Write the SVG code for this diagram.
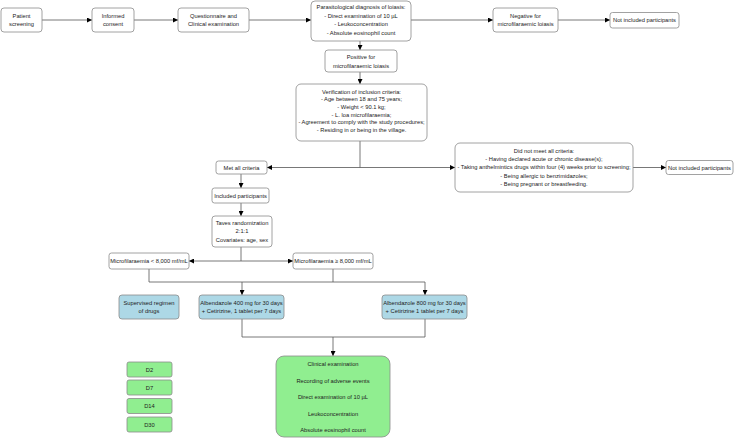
<svg xmlns="http://www.w3.org/2000/svg" width="735" height="438" viewBox="0 0 735 438">
<style>
.b{fill:#fff;stroke:#8a8a8a;stroke-width:0.8}
.bl{fill:#add8e6;stroke:#8a8a8a;stroke-width:0.8}
.g{fill:#90ee90;stroke:#8a8a8a;stroke-width:0.8}
text{font-family:"Liberation Sans",Arial,sans-serif;font-size:5.75px;fill:#222;text-anchor:middle;dominant-baseline:central}
.c path{fill:none;stroke:#555;stroke-width:0.8}
</style>
<defs>
<marker id="a" viewBox="0 0 10 10" refX="10" refY="5" markerWidth="5" markerHeight="5" orient="auto" markerUnits="userSpaceOnUse">
<path d="M0,0L10,5L0,10z" fill="#000"/>
</marker>
</defs>
<rect width="735" height="438" fill="#fff"/>
<g class="c">
<path d="M42,20H92" marker-end="url(#a)"/>
<path d="M134,20H178" marker-end="url(#a)"/>
<path d="M249,20H311" marker-end="url(#a)"/>
<path d="M411,20H493" marker-end="url(#a)"/>
<path d="M558,20H610" marker-end="url(#a)"/>
<path d="M360,41V50" marker-end="url(#a)"/>
<path d="M360,72V84" marker-end="url(#a)"/>
<path d="M360,141V167.5"/>
<path d="M360,167.5H267" marker-end="url(#a)"/>
<path d="M360,167.5H455" marker-end="url(#a)"/>
<path d="M633,167.5H666" marker-end="url(#a)"/>
<path d="M241,174V188" marker-end="url(#a)"/>
<path d="M241,203V216" marker-end="url(#a)"/>
<path d="M241,247V261"/>
<path d="M241,261H189" marker-end="url(#a)"/>
<path d="M241,261H293" marker-end="url(#a)"/>
<path d="M149,269V282H425"/>
<path d="M333,269V282"/>
<path d="M242,282V295" marker-end="url(#a)"/>
<path d="M425,282V295" marker-end="url(#a)"/>
<path d="M242,319V337H425V319"/>
<path d="M333,337V356" marker-end="url(#a)"/>
</g>
<g id="patient"><rect class="b" x="1" y="8" width="41" height="24" rx="3"/><text x="21.5" y="16">Patient</text><text x="21.5" y="24.3">screening</text></g>
<g id="consent"><rect class="b" x="92" y="8" width="42" height="24" rx="3"/><text x="113" y="16">Informed</text><text x="113" y="24.3">consent</text></g>
<g id="questionnaire"><rect class="b" x="178" y="8" width="71" height="24" rx="3"/><text x="213.5" y="16">Questionnaire and</text><text x="213.5" y="24.3">Clinical examination</text></g>
<g id="parasito"><rect class="b" x="311" y="1" width="100" height="40" rx="4"/>
<text x="361" y="7.3">Parasitological diagnosis of loiasis:</text>
<text x="361" y="15.7">- Direct examination of 10 µL</text>
<text x="361" y="24.2">- Leukoconcentration</text>
<text x="361" y="32.6">- Absolute eosinophil count</text></g>
<g id="negative"><rect class="b" x="493" y="8" width="65" height="24" rx="3"/><text x="525.5" y="16">Negative for</text><text x="525.5" y="24.3">microfilaraemic loiasis</text></g>
<g id="notincl1"><rect class="b" x="610" y="12.5" width="69" height="15.5" rx="2.5"/><text x="644.5" y="20.3">Not included participants</text></g>
<g id="positive"><rect class="b" x="325" y="50" width="72" height="22" rx="3"/><text x="361" y="57.3">Positive for</text><text x="361" y="66">microfilaraemic loiasis</text></g>
<g id="verification"><rect class="b" x="296" y="84" width="131" height="57" rx="5"/>
<text x="361.5" y="91.5">Verification of inclusion criteria:</text>
<text x="361.5" y="99.2">- Age between 18 and 75 years;</text>
<text x="361.5" y="106.9">- Weight &lt; 90.1 kg;</text>
<text x="361.5" y="114.6">- L. loa microfilaraemia;</text>
<text x="361.5" y="122.3">- Agreement to comply with the study procedures;</text>
<text x="361.5" y="130">- Residing in or being in the village.</text></g>
<g id="met"><rect class="b" x="216" y="161" width="51" height="13" rx="2.5"/><text x="241.5" y="167.5">Met all criteria</text></g>
<g id="notmet"><rect class="b" x="455" y="143" width="178" height="49" rx="5"/>
<text x="544" y="151.3">Did not meet all criteria:</text>
<text x="544" y="159.3">- Having declared acute or chronic disease(s);</text>
<text x="544" y="167.4">- Taking anthelmintics drugs within four (4) weeks prior to screening;</text>
<text x="544" y="175.5">- Being allergic to benzimidazoles;</text>
<text x="544" y="183.6">- Being pregnant or breastfeeding.</text></g>
<g id="notincl2"><rect class="b" x="666" y="160.5" width="67" height="14" rx="2.5"/><text x="699.5" y="167.5">Not included participants</text></g>
<g id="included"><rect class="b" x="212" y="188" width="57" height="15" rx="2.5"/><text x="240.5" y="195.5">Included participants</text></g>
<g id="taves"><rect class="b" x="212" y="216" width="60" height="31" rx="3"/>
<text x="242" y="222.7">Taves randomization</text><text x="242" y="231.2">2:1:1</text><text x="242" y="239.7">Covariates: age, sex</text></g>
<g id="mflow"><rect class="b" x="109" y="253" width="80" height="16" rx="2.5"/><text x="149" y="261">Microfilaraemia &lt; 8,000 mf/mL</text></g>
<g id="mfhigh"><rect class="b" x="293" y="253" width="80" height="16" rx="2.5"/><text x="333" y="261">Microfilaraemia ≥ 8,000 mf/mL</text></g>
<g id="supervised"><rect class="bl" x="119" y="295" width="60" height="24" rx="3"/><text x="149" y="303">Supervised regimen</text><text x="149" y="311.3">of drugs</text></g>
<g id="alb400"><rect class="bl" x="199" y="295" width="85" height="24" rx="3"/><text x="241.5" y="303">Albendazole 400 mg for 30 days</text><text x="241.5" y="311.3">+ Cetirizine, 1 tablet per 7 days</text></g>
<g id="alb800"><rect class="bl" x="382" y="295" width="85" height="24" rx="3"/><text x="424.5" y="303">Albendazole 800 mg for 30 days</text><text x="424.5" y="311.3">+ Cetirizine 1 tablet per 7 days</text></g>
<g id="d2"><rect class="g" x="127" y="362" width="45" height="15" rx="2"/><text x="149.5" y="369.5">D2</text></g>
<g id="d7"><rect class="g" x="127" y="380" width="45" height="15" rx="2"/><text x="149.5" y="387.5">D7</text></g>
<g id="d14"><rect class="g" x="127" y="398.5" width="45" height="15" rx="2"/><text x="149.5" y="406">D14</text></g>
<g id="d30"><rect class="g" x="127" y="417" width="45" height="15" rx="2"/><text x="149.5" y="424.5">D30</text></g>
<g id="followup"><rect class="g" x="276" y="356" width="114" height="81" rx="8"/>
<text x="333" y="364">Clinical examination</text>
<text x="333" y="380.7">Recording of adverse events</text>
<text x="333" y="397.3">Direct examination of 10 µL</text>
<text x="333" y="414">Leukoconcentration</text>
<text x="333" y="430">Absolute eosinophil count</text></g>
</svg>
